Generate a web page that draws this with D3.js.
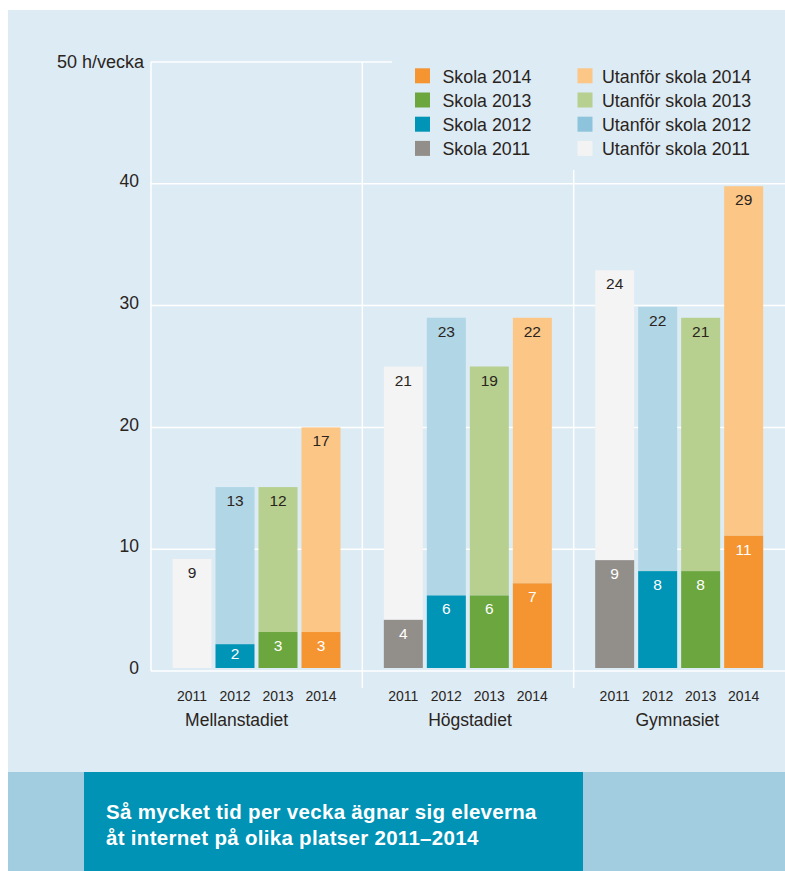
<!DOCTYPE html>
<html><head><meta charset="utf-8">
<script src="https://cdn.jsdelivr.net/npm/d3@7/dist/d3.min.js"></script>
<style>
html,body{margin:0;padding:0;background:#fff;}
svg{display:block;font-family:"Liberation Sans",Arial,Helvetica,sans-serif;}
</style></head><body>
<svg id="chart" width="785" height="871"></svg>
<script>
// ---- data ----
const groups = ["Mellanstadiet", "Högstadiet", "Gymnasiet"];
const years = ["2011", "2012", "2013", "2014"];
// hours per week at school, per group, per year
const skolaValues = [[0, 2.2, 3.2, 3.2], [4.2, 6.2, 6.2, 7.2], [9.1, 8.2, 8.2, 11.1]];
// hours per week outside school, per group, per year
const utanforValues = [[9.2, 12.9, 11.9, 16.8], [20.8, 22.8, 18.8, 21.8], [23.8, 21.7, 20.8, 28.7]];
const yTicks = [0, 10, 20, 30, 40];
const yTopLabel = "50 h/vecka";
const yMax = 50;
const legendSkola = ["Skola 2014", "Skola 2013", "Skola 2012", "Skola 2011"];
const legendUtanfor = ["Utanför skola 2014", "Utanför skola 2013", "Utanför skola 2012", "Utanför skola 2011"];
const legendYears = ["2014", "2013", "2012", "2011"];
const captionLines = ["Så mycket tid per vecka ägnar sig eleverna", "åt internet på olika platser 2011–2014"];

// ---- style ----
const skolaColor = {"2011": "#928f8a", "2012": "#0094b6", "2013": "#6ba63e", "2014": "#f59531"};
const utanforColor = {"2011": "#f4f4f4", "2012": "#b1d6e6", "2013": "#b7d08f", "2014": "#fcc687"};
const utanforLegendColor = {"2011": "#f3f3f3", "2012": "#8ec4db", "2013": "#b7d08f", "2014": "#fcc687"};
const bg = "#dcebf4", textColor = "#2a241c";

const svg = d3.select("#chart");
svg.append("rect").attr("x", 8).attr("y", 10).attr("width", 777).attr("height", 762).attr("fill", bg);

const x0 = d3.scaleBand().domain(groups).range([151, 785]);
const x1 = d3.scaleBand().domain(years).range([21.5, 189.5]).paddingInner(4 / 43);
const y = d3.scaleLinear().domain([0, yMax]).range([671, 62]);

// grid
const grid = svg.append("g").attr("stroke", "#fff").attr("stroke-width", 1.5);
grid.selectAll("line.h").data(yTicks.concat([yMax])).join("line")
  .attr("x1", 151).attr("x2", 785).attr("y1", d => y(d)).attr("y2", d => y(d));
grid.append("line").attr("x1", 151).attr("x2", 151).attr("y1", y(yMax)).attr("y2", y(0));
grid.selectAll("line.sep").data(groups.slice(1)).join("line")
  .attr("x1", d => x0(d)).attr("x2", d => x0(d)).attr("y1", y(yMax)).attr("y2", 688);

// y axis labels
const yAxis = svg.append("g").attr("transform", "translate(151,0)")
  .call(d3.axisLeft(y).tickValues(yTicks).tickSize(0).tickPadding(12));
yAxis.select(".domain").remove();
yAxis.selectAll("text").attr("font-family", "inherit").attr("font-size", 17.5).attr("fill", textColor).attr("dy", "0.15em");
svg.append("text").attr("x", 144).attr("y", y(yMax) + 6).attr("text-anchor", "end")
  .attr("font-size", 18).attr("fill", textColor).text(yTopLabel);

// bars
const bottom = y(0) - 3;
groups.forEach((g, gi) => {
  const gg = svg.append("g").attr("transform", `translate(${x0(g)},0)`);
  years.forEach((yr, i) => {
    const s = skolaValues[gi][i], u = utanforValues[gi][i];
    const bx = x1(yr), bw = x1.bandwidth(), cx = bx + bw / 2;
    const sTop = s > 0 ? y(s) : bottom;
    gg.append("rect").attr("x", bx).attr("width", bw)
      .attr("y", y(s + u)).attr("height", sTop - y(s + u)).attr("fill", utanforColor[yr]);
    if (s > 0) {
      gg.append("rect").attr("x", bx).attr("width", bw)
        .attr("y", sTop).attr("height", bottom - sTop).attr("fill", skolaColor[yr]);
      const h = bottom - sTop;
      gg.append("text").attr("x", cx).attr("y", sTop + Math.min(19, h / 2 + 3))
        .attr("text-anchor", "middle").attr("font-size", 15.5).attr("fill", "#fff").text(Math.round(s));
    }
    gg.append("text").attr("x", cx).attr("y", y(s + u) + 19)
      .attr("text-anchor", "middle").attr("font-size", 15.5).attr("fill", textColor).text(Math.round(u));
  });
  const xa = gg.append("g").attr("transform", `translate(0,${y(0)})`)
    .call(d3.axisBottom(x1).tickSize(0).tickPadding(20));
  xa.select(".domain").remove();
  xa.selectAll("text").attr("font-family", "inherit").attr("font-size", 14).attr("fill", textColor);
});
const groupLabelDx = [-20, 2, -2];
svg.selectAll("text.group").data(groups).join("text").attr("class", "group")
  .attr("x", (d, i) => x0(d) + x0.bandwidth() / 2 + groupLabelDx[i]).attr("y", 726)
  .attr("text-anchor", "middle").attr("font-size", 17.5).attr("fill", textColor).text(d => d);

// legend
svg.append("rect").attr("x", 392).attr("y", 45).attr("width", 393).attr("height", 125).attr("fill", bg);
const leg = svg.append("g");
legendYears.forEach((yr, i) => {
  const ly = 68.3 + i * 24.2;
  leg.append("rect").attr("x", 415).attr("y", ly).attr("width", 15).attr("height", 15).attr("fill", skolaColor[yr]);
  leg.append("text").attr("x", 442.5).attr("y", ly + 14.5).attr("font-size", 17.8).attr("fill", textColor).text(legendSkola[i]);
  leg.append("rect").attr("x", 577.5).attr("y", ly).attr("width", 15).attr("height", 15).attr("fill", utanforLegendColor[yr]);
  leg.append("text").attr("x", 602).attr("y", ly + 14.5).attr("font-size", 17.8).attr("fill", textColor).text(legendUtanfor[i]);
});

// caption
svg.append("rect").attr("x", 8).attr("y", 772).attr("width", 777).attr("height", 99).attr("fill", "#a2cde0");
svg.append("rect").attr("x", 84).attr("y", 772).attr("width", 499).attr("height", 99).attr("fill", "#0093b5");
svg.selectAll("text.cap").data(captionLines).join("text").attr("class", "cap")
  .attr("x", 106).attr("y", (d, i) => 819 + i * 26)
  .attr("font-size", 20.5).attr("font-weight", "bold").attr("letter-spacing", 0.3).attr("fill", "#fff").text(d => d);
</script>
</body></html>
